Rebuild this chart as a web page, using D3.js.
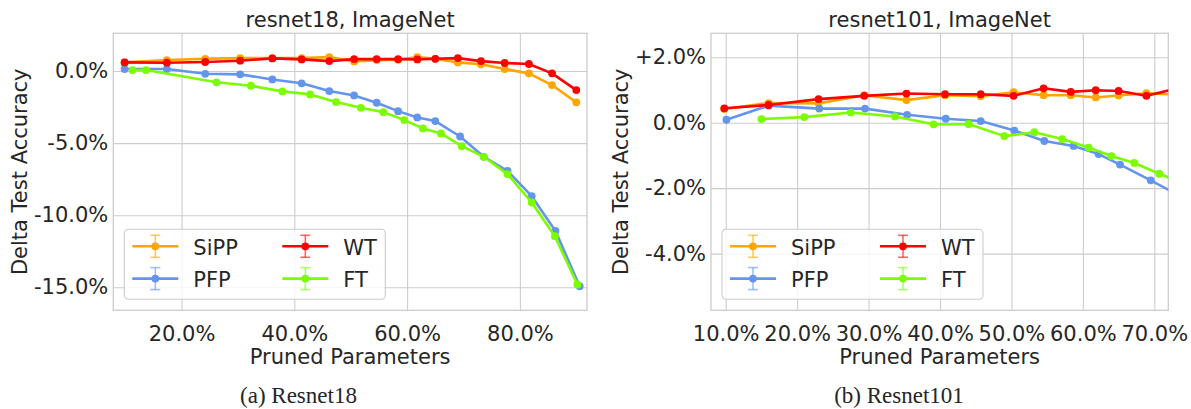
<!DOCTYPE html>
<html>
<meta charset="utf-8">
<style>
  body { margin: 0; background: #fff; }
  text { font-family: "DejaVu Sans", sans-serif; fill: #262626; }
</style>
<body>
<div id="my_dataviz"></div>

<!-- Load d3.js -->
<script src="https://d3js.org/d3.v7.min.js"></script>

<script>

// methods, in the order matplotlib drew them
var methods = ["SiPP", "PFP", "WT", "FT"];
var methodColors = ["#FFA500", "#6495ED", "#FF0000", "#7CFC00"];

// resnet18 - pruned parameters (%) and delta test accuracy (%)
var r18SippX = [9.9, 17.4, 24.2, 30.4, 36.1, 41.3, 46.2, 50.6, 54.6, 58.4, 61.8, 65.0, 69.0, 73.1, 77.3, 81.6, 85.7, 90.0];
var r18SippY = [0.60, 0.76, 0.85, 0.90, 0.90, 0.90, 0.97, 0.67, 0.76, 0.78, 0.97, 0.85, 0.60, 0.47, 0.14, -0.16, -0.97, -2.17];
var r18PfpX  = [9.9, 17.4, 24.2, 30.4, 36.1, 41.3, 46.2, 50.6, 54.6, 58.4, 61.8, 65.0, 69.4, 73.6, 77.8, 82.1, 86.3, 90.6];
var r18PfpY  = [0.14, 0.14, -0.19, -0.23, -0.58, -0.85, -1.39, -1.69, -2.20, -2.78, -3.22, -3.47, -4.54, -5.95, -6.92, -8.68, -11.09, -14.93];
var r18WtX   = [9.9, 17.4, 24.2, 30.4, 36.1, 41.3, 46.2, 50.6, 54.6, 58.4, 61.8, 65.0, 69.0, 73.1, 77.3, 81.6, 85.7, 90.0];
var r18WtY   = [0.60, 0.58, 0.63, 0.72, 0.88, 0.81, 0.69, 0.83, 0.83, 0.83, 0.81, 0.85, 0.90, 0.69, 0.56, 0.49, -0.16, -1.32];
var r18FtX   = [11.3, 13.7, 26.2, 32.3, 37.9, 42.8, 47.4, 51.8, 55.8, 59.5, 62.8, 66.0, 69.7, 73.6, 77.8, 82.1, 86.2, 90.2];
var r18FtY   = [0.07, 0.07, -0.78, -1.02, -1.41, -1.62, -2.15, -2.55, -2.85, -3.40, -3.98, -4.33, -5.21, -5.95, -7.15, -9.12, -11.46, -14.81];

// resnet101 - the last point of every series lies past the right edge and is clipped
var r101SippX = [9.8, 16.0, 23.0, 29.4, 35.3, 40.7, 45.7, 50.3, 54.5, 58.3, 61.8, 65.0, 68.9, 73.6];
var r101SippY = [0.42, 0.60, 0.59, 0.84, 0.69, 0.84, 0.81, 0.93, 0.84, 0.84, 0.77, 0.83, 0.90, 0.85];
var r101PfpX  = [10.1, 16.0, 23.1, 29.5, 35.4, 40.8, 45.7, 50.4, 54.6, 58.7, 62.2, 65.2, 69.5, 73.6];
var r101PfpY  = [0.09, 0.52, 0.43, 0.43, 0.24, 0.12, 0.05, -0.24, -0.56, -0.71, -0.96, -1.28, -1.76, -2.24];
var r101WtX   = [9.8, 16.0, 23.0, 29.4, 35.3, 40.7, 45.7, 50.3, 54.5, 58.3, 61.8, 65.0, 68.9, 73.6];
var r101WtY   = [0.44, 0.54, 0.72, 0.82, 0.89, 0.87, 0.87, 0.82, 1.05, 0.94, 0.99, 0.97, 0.82, 1.07];
var r101FtX   = [15.0, 21.0, 27.5, 33.7, 39.1, 44.0, 49.0, 53.2, 57.1, 60.8, 64.0, 67.2, 70.7, 73.6];
var r101FtY   = [0.11, 0.17, 0.31, 0.19, -0.05, -0.04, -0.41, -0.29, -0.50, -0.76, -1.02, -1.23, -1.56, -1.82];

// tick values
var r18XTicks = [20, 40, 60, 80];
var r18YTicks = [0, -5, -10, -15];
var r101XTicks = [10, 20, 30, 40, 50, 60, 70];
var r101YTicks = [2, 0, -2, -4];

var gridColor = "#cccccc";
var fontSize = 21;

var svg = d3.select("#my_dataviz")
  .append("svg")
    .attr("width", 1191)
    .attr("height", 409);

// y ticks carry an explicit plus sign, x ticks don't
function fmtY(d) {
  return (d > 0 ? "+" : "") + d.toFixed(1) + "%";
}
function fmtX(d) {
  return d.toFixed(1) + "%";
}

function drawPanel(p) {
  var top = 33.3, bottom = 310.3;
  var width = p.right - p.left,
      height = bottom - top;

  var g = svg.append("g")
    .attr("transform", "translate(" + p.left + "," + top + ")");

  var x = d3.scaleLinear().domain(p.xDomain).range([0, width]);
  var y = d3.scaleLinear().domain(p.yDomain).range([height, 0]);

  // grid + tick labels
  var xa = g.append("g")
    .attr("transform", "translate(0," + height + ")")
    .call(d3.axisBottom(x).tickValues(p.xTicks).tickFormat(fmtX).tickSize(-height).tickPadding(16));
  var ya = g.append("g")
    .call(d3.axisLeft(y).tickValues(p.yTicks).tickFormat(fmtY).tickSize(-width).tickPadding(5));
  [xa, ya].forEach(function(a) {
    a.select(".domain").remove();
    a.attr("font-family", null).attr("font-size", null);
    a.selectAll("line").attr("stroke", gridColor).attr("stroke-width", 1.1);
    a.selectAll("text").style("font-size", fontSize + "px").attr("fill", "#262626");
  });

  // frame
  g.append("rect")
    .attr("width", width)
    .attr("height", height)
    .attr("fill", "none")
    .attr("stroke", gridColor)
    .attr("stroke-width", 1.3);

  // clip region
  g.append("clipPath")
    .attr("id", p.id + "-clip")
    .append("rect")
      .attr("width", width)
      .attr("height", height);

  var plot = g.append("g").attr("clip-path", "url(#" + p.id + "-clip)");

  var line = d3.line()
    .x(function(d) { return x(d[0]); })
    .y(function(d) { return y(d[1]); });

  p.series.forEach(function(s, i) {
    var pts = d3.zip(s.x, s.y);
    plot.append("path")
      .datum(pts)
      .attr("d", line)
      .attr("fill", "none")
      .attr("stroke", methodColors[i])
      .attr("stroke-width", 2.6)
      .attr("stroke-linejoin", "round");
    plot.selectAll(".pt" + i)
      .data(pts)
      .enter()
      .append("circle")
        .attr("cx", function(d) { return x(d[0]); })
        .attr("cy", function(d) { return y(d[1]); })
        .attr("r", 3.9)
        .attr("fill", methodColors[i]);
  });

  // title and axis labels
  g.append("text")
    .attr("x", width / 2)
    .attr("y", 27 - top)
    .attr("text-anchor", "middle")
    .style("font-size", fontSize + "px")
    .text(p.title);

  g.append("text")
    .attr("x", width / 2)
    .attr("y", 364 - top)
    .attr("text-anchor", "middle")
    .style("font-size", fontSize + "px")
    .text("Pruned Parameters");

  g.append("text")
    .attr("transform", "translate(" + (p.yLabelX - p.left) + "," + (height / 2) + ") rotate(-90)")
    .attr("text-anchor", "middle")
    .style("font-size", fontSize + "px")
    .text("Delta Test Accuracy");

  // legend, lower left
  var lw = 261, lh = 70;
  var lg = g.append("g")
    .attr("transform", "translate(11," + (height - 11 - lh) + ")");
  lg.append("rect")
    .attr("width", lw)
    .attr("height", lh)
    .attr("rx", 4)
    .attr("fill", "#ffffff")
    .attr("fill-opacity", 0.8)
    .attr("stroke", gridColor)
    .attr("stroke-width", 1.1);

  methods.forEach(function(m, i) {
    var col = Math.floor(i / 2), row = i % 2;
    var x0 = 8 + col * 150, cy = 17 + row * 32.3;
    var e = lg.append("g");
    e.append("line")
      .attr("x1", x0).attr("x2", x0 + 46)
      .attr("y1", cy).attr("y2", cy)
      .attr("stroke", methodColors[i])
      .attr("stroke-width", 2.6);
    // error bar glyph
    e.append("line")
      .attr("x1", x0 + 23).attr("x2", x0 + 23)
      .attr("y1", cy - 11).attr("y2", cy + 11)
      .attr("stroke", methodColors[i]).attr("stroke-opacity", 0.6).attr("stroke-width", 1.6);
    [-11, 11].forEach(function(dy) {
      e.append("line")
        .attr("x1", x0 + 18).attr("x2", x0 + 28)
        .attr("y1", cy + dy).attr("y2", cy + dy)
        .attr("stroke", methodColors[i]).attr("stroke-opacity", 0.6).attr("stroke-width", 1.6);
    });
    e.append("circle")
      .attr("cx", x0 + 23).attr("cy", cy).attr("r", 3.9)
      .attr("fill", methodColors[i]);
    e.append("text")
      .attr("x", x0 + 61)
      .attr("y", cy + 8.5)
      .style("font-size", fontSize + "px")
      .text(m);
  });

  // caption below the panel
  svg.append("text")
    .attr("x", p.captionX)
    .attr("y", 403)
    .attr("text-anchor", "middle")
    .style("font-family", "'Liberation Serif', 'Times New Roman', serif")
    .style("font-size", "23px")
    .attr("fill", "#000")
    .text(p.caption);
}

drawPanel({
  id: "r18",
  left: 113.3, right: 587,
  xDomain: [7.9, 91.9], yDomain: [-16.6, 2.62],
  xTicks: r18XTicks, yTicks: r18YTicks,
  title: "resnet18, ImageNet",
  caption: "(a) Resnet18", captionX: 298.5,
  yLabelX: 27,
  series: [
    {x: r18SippX, y: r18SippY},
    {x: r18PfpX, y: r18PfpY},
    {x: r18WtX, y: r18WtY},
    {x: r18FtX, y: r18FtY}
  ]
});

drawPanel({
  id: "r101",
  left: 711, right: 1168.3,
  xDomain: [7.94, 71.96], yDomain: [-5.73, 2.73],
  xTicks: r101XTicks, yTicks: r101YTicks,
  title: "resnet101, ImageNet",
  caption: "(b) Resnet101", captionX: 899,
  yLabelX: 628,
  series: [
    {x: r101SippX, y: r101SippY},
    {x: r101PfpX, y: r101PfpY},
    {x: r101WtX, y: r101WtY},
    {x: r101FtX, y: r101FtY}
  ]
});

</script>
</body>
</html>
